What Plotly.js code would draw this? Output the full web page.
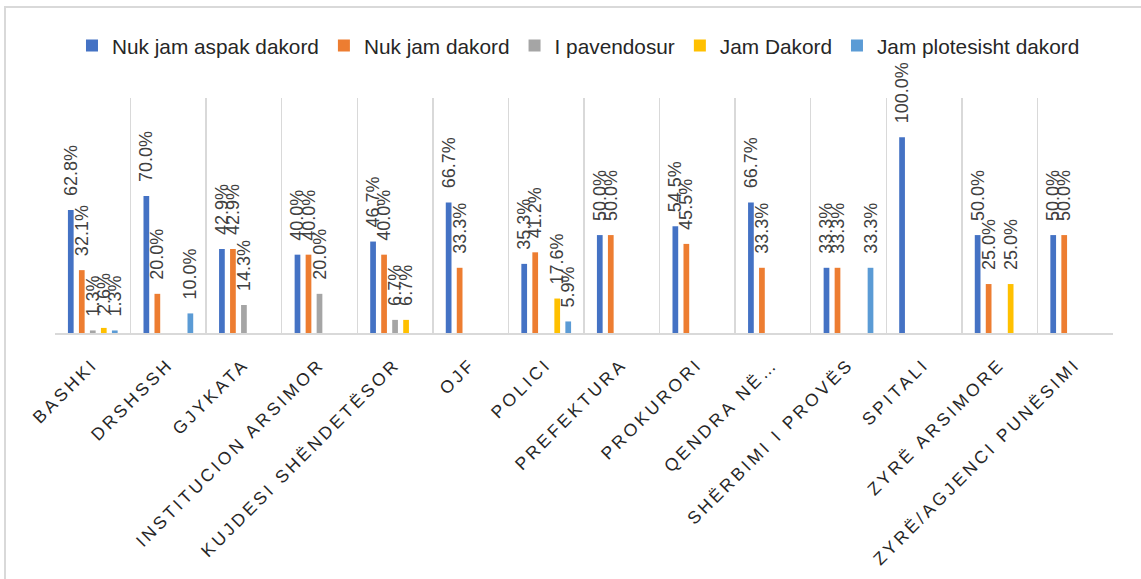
<!DOCTYPE html>
<html>
<head>
<meta charset="utf-8">
<script src="https://cdn.plot.ly/plotly-3.0.1.min.js"></script>
<style>
  html, body { margin: 0; padding: 0; background: #fff; overflow: hidden; }
  #chart { width: 1141px; height: 579px; position: absolute; left: 0; top: 0; }
  #frame { position: absolute; left: 4px; top: 6px; width: 1141px; height: 579px;
           border-top: 2px solid #d9d9d9; border-left: 2px solid #d9d9d9; pointer-events: none; }
  .xtick text { letter-spacing: 3.2px; }
</style>
</head>
<body>
<div id="chart"></div>
<div id="frame"></div>
<script>
const categories = ["BASHKI", "DRSHSSH", "GJYKATA", "INSTITUCION ARSIMOR", "KUJDESI SHËNDETËSOR",
  "OJF", "POLICI", "PREFEKTURA", "PROKURORI", "QENDRA NË…", "SHËRBIMI I PROVËS",
  "SPITALI", "ZYRË ARSIMORE", "ZYRË/AGJENCI PUNËSIMI"];

const seriesNames = ["Nuk jam aspak dakord", "Nuk jam dakord", "I pavendosur", "Jam Dakord", "Jam plotesisht dakord"];
const seriesColors = ["#4472C4", "#ED7D31", "#A5A5A5", "#FFC000", "#5B9BD5"];

const nukJamAspakDakord   = [62.8, 70.0, 42.9, 40.0, 46.7, 66.7, 35.3, 50.0, 54.5, 66.7, 33.3, 100.0, 50.0, 50.0];
const nukJamDakord        = [32.1, 20.0, 42.9, 40.0, 40.0, 33.3, 41.2, 50.0, 45.5, 33.3, 33.3, 0, 25.0, 50.0];
const iPavendosur         = [1.3, 0, 14.3, 20.0, 6.7, 0, 0, 0, 0, 0, 0, 0, 0, 0];
const jamDakord           = [2.6, 0, 0, 0, 6.7, 0, 17.6, 0, 0, 0, 0, 0, 25.0, 0];
const jamPlotesishtDakord = [1.3, 10.0, 0, 0, 0, 0, 5.9, 0, 0, 0, 33.3, 0, 0, 0];

const seriesValues = [nukJamAspakDakord, nukJamDakord, iPavendosur, jamDakord, jamPlotesishtDakord];

const fontFam = '"Liberation Sans", Arial, sans-serif';

const traces = seriesValues.map((vals, i) => ({
  type: 'bar',
  name: seriesNames[i],
  x: categories,
  y: vals,
  marker: { color: seriesColors[i], line: { width: 0 } },
  text: vals.map(v => v > 0 ? v.toFixed(1) + '%' : ''),
  texttemplate: '%{text}',
  textposition: 'outside',
  textangle: -90,
  constraintext: 'none',
  cliponaxis: false,
  textfont: { family: fontFam, size: 18, color: '#404040' },
  hoverinfo: 'x+y+name'
}));

const layout = {
  width: 1141,
  height: 579,
  paper_bgcolor: 'rgba(0,0,0,0)',
  plot_bgcolor: 'rgba(0,0,0,0)',
  margin: { l: 55, r: 28, t: 98, b: 246 },
  barmode: 'group',
  bargap: 0.272,
  bargroupgap: 0.48,
  showlegend: true,
  legend: {
    orientation: 'h',
    xref: 'container', yref: 'container',
    x: 0.507, xanchor: 'center',
    y: 1 - 46 / 579, yanchor: 'middle',
    font: { family: fontFam, size: 20.8, color: '#262626' },
    traceorder: 'normal',
    bgcolor: 'rgba(0,0,0,0)'
  },
  xaxis: {
    type: 'category',
    tickson: 'boundaries',
    showgrid: true,
    gridcolor: '#d9d9d9',
    gridwidth: 1.5,
    showline: true,
    linecolor: '#d9d9d9',
    linewidth: 2,
    ticks: '',
    tickangle: -45,
    ticklabelstandoff: 12,
    tickfont: { family: fontFam, size: 17.5, color: '#262626' },
    automargin: false
  },
  yaxis: {
    range: [0, 120],
    showgrid: false,
    zeroline: false,
    showticklabels: false,
    showline: false,
    fixedrange: true
  },
  font: { family: fontFam, color: '#404040' }
};

Plotly.newPlot('chart', traces, layout, { displayModeBar: false, staticPlot: true }).then(() => {
  document.querySelectorAll('.trace.bars .point text').forEach(t => {
    const tr = t.getAttribute('transform') || '';
    t.setAttribute('transform', 'translate(0,-14) ' + tr);
  });
});
</script>
</body>
</html>
